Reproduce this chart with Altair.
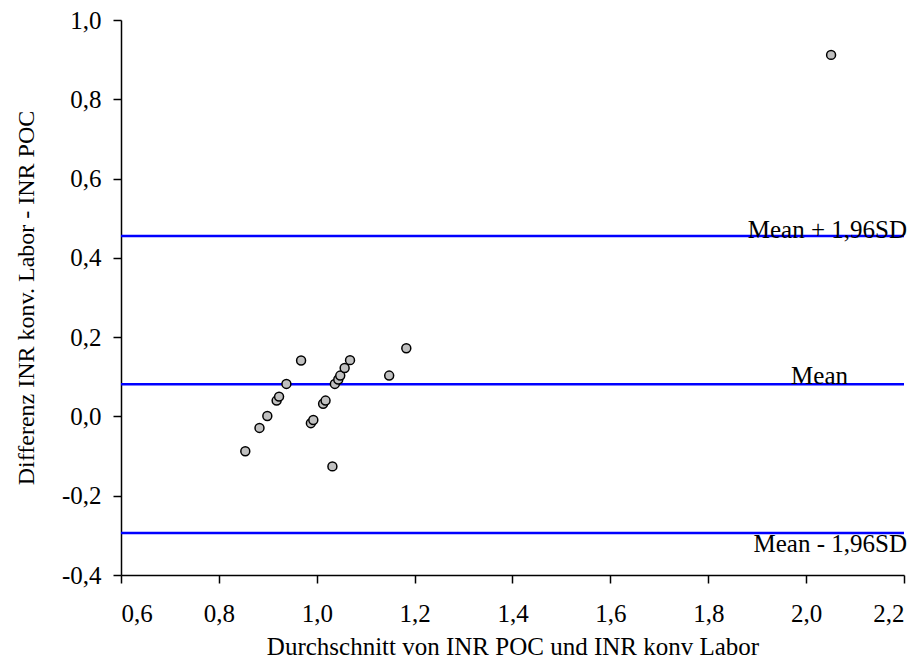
import altair as alt
import pandas as pd

# Bland-Altman data
avg_values = [0.854, 0.883, 0.899, 0.918, 0.923, 0.938, 0.968,
              0.988, 0.993, 1.013, 1.018, 1.032, 1.037, 1.044,
              1.048, 1.057, 1.068, 1.148, 1.183, 2.051]
diff_values = [-0.088, -0.029, 0.001, 0.040, 0.050, 0.082, 0.141,
               -0.017, -0.009, 0.032, 0.040, -0.126, 0.082, 0.093,
               0.103, 0.122, 0.142, 0.103, 0.172, 0.912]

line_names = ["Mean + 1,96SD", "Mean", "Mean - 1,96SD"]
line_values = [0.455, 0.081, -0.294]

x_ticks = [0.6, 0.8, 1.0, 1.2, 1.4, 1.6, 1.8, 2.0, 2.2]
y_ticks = [-0.4, -0.2, 0.0, 0.2, 0.4, 0.6, 0.8, 1.0]

pts = pd.DataFrame({"avg": avg_values, "diff": diff_values})
lines = pd.DataFrame({"name": line_names, "value": line_values,
                      "x0": [0.6] * 3, "x1": [2.2] * 3})

FONT = "Liberation Serif"
label_expr = "replace(replace(format(datum.value, '.1f'), '.', ','), '\u2212', '-')"

xscale = alt.Scale(domain=[0.6, 2.2], nice=False, zero=False)
yscale = alt.Scale(domain=[-0.4, 1.0], nice=False, zero=False)

xaxis = alt.Axis(values=x_ticks, labelExpr=label_expr, grid=False,
                 title="Durchschnitt von INR POC und INR konv Labor",
                 titlePadding=8, labelPadding=18, titleFontSize=25)
yaxis = alt.Axis(values=y_ticks, labelExpr=label_expr, grid=False,
                 title="Differenz INR konv. Labor - INR POC",
                 titlePadding=23, labelPadding=12, titleFontSize=24)

rules = alt.Chart(lines).mark_rule(color="#0000ff", strokeWidth=2.5).encode(
    x=alt.X("x0:Q", scale=xscale, axis=xaxis),
    x2="x1:Q",
    y=alt.Y("value:Q", scale=yscale, axis=yaxis),
)

points = alt.Chart(pts).mark_point(
    shape="circle", filled=True, fill="#c0c0c0", stroke="black",
    strokeWidth=1.5, size=80, opacity=1
).encode(
    x=alt.X("avg:Q", scale=xscale),
    y=alt.Y("diff:Q", scale=yscale),
)

upper = alt.Chart(lines[lines["name"] == "Mean + 1,96SD"]).mark_text(
    align="right", baseline="alphabetic", font=FONT, fontSize=25,
    color="black", dx=3, dy=2
).encode(x=alt.X("x1:Q", scale=xscale), y=alt.Y("value:Q", scale=yscale), text="name:N")

mean_lbl = alt.Chart(lines[lines["name"] == "Mean"]).mark_text(
    align="right", baseline="alphabetic", font=FONT, fontSize=25,
    color="black", dx=-56, dy=0
).encode(x=alt.X("x1:Q", scale=xscale), y=alt.Y("value:Q", scale=yscale), text="name:N")

lower = alt.Chart(lines[lines["name"] == "Mean - 1,96SD"]).mark_text(
    align="right", baseline="top", font=FONT, fontSize=25,
    color="black", dx=3, dy=-1
).encode(x=alt.X("x1:Q", scale=xscale), y=alt.Y("value:Q", scale=yscale), text="name:N")

chart = alt.layer(rules, points, upper, mean_lbl, lower).properties(
    width=783, height=555,
    autosize=alt.AutoSizeParams(type="none"),
    padding={"left": 121, "top": 20, "right": 16, "bottom": 96},
    background="white",
).configure_view(stroke=None).configure_axis(
    domainColor="black", domainWidth=1.5, tickColor="black", tickWidth=1.5,
    tickSize=8, labelFont=FONT, labelFontSize=25, labelColor="black",
    titleFont=FONT, titleFontWeight="normal", titleColor="black",
)

chart.save("out.html", embed_options={"renderer": "svg", "actions": False})
